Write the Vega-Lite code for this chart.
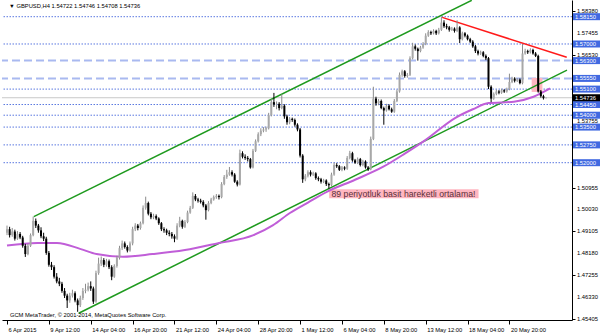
{
"$schema": "https://vega.github.io/schema/vega-lite/v6.json",
"width": 570, "height": 320,
"autosize": {"type": "none"},
"padding": {"left": 2, "top": 0, "right": 28, "bottom": 13},
"background": "white",
"config": {"view": {"stroke": null}, "font": "Liberation Sans",
 "axis": {"grid": false, "domainColor": "#000", "tickColor": "#000", "labelColor": "#000", "labelFont": "Liberation Sans", "labelFontSize": 5.8, "tickSize": 3, "domainWidth": 1, "tickWidth": 1}},
"datasets": {
"candles": [
{"i":0,"o":1.4905,"h":1.4935,"l":1.4895,"c":1.4920},
{"i":1,"o":1.4920,"h":1.4930,"l":1.4885,"c":1.4895},
{"i":2,"o":1.4895,"h":1.4925,"l":1.4888,"c":1.4910},
{"i":3,"o":1.4910,"h":1.4918,"l":1.4872,"c":1.4880},
{"i":4,"o":1.4880,"h":1.4912,"l":1.4875,"c":1.4900},
{"i":5,"o":1.4900,"h":1.4908,"l":1.4878,"c":1.4885},
{"i":6,"o":1.4885,"h":1.4892,"l":1.4842,"c":1.4850},
{"i":7,"o":1.4850,"h":1.4858,"l":1.4803,"c":1.4815},
{"i":8,"o":1.4815,"h":1.4858,"l":1.4810,"c":1.4850},
{"i":9,"o":1.4850,"h":1.4902,"l":1.4845,"c":1.4895},
{"i":10,"o":1.4895,"h":1.4973,"l":1.4890,"c":1.4955},
{"i":11,"o":1.4955,"h":1.4965,"l":1.4925,"c":1.4935},
{"i":12,"o":1.4935,"h":1.4942,"l":1.4905,"c":1.4915},
{"i":13,"o":1.4915,"h":1.4928,"l":1.4882,"c":1.4890},
{"i":14,"o":1.4890,"h":1.4905,"l":1.4870,"c":1.4880},
{"i":15,"o":1.4880,"h":1.4888,"l":1.4812,"c":1.4820},
{"i":16,"o":1.4820,"h":1.4828,"l":1.4762,"c":1.4770},
{"i":17,"o":1.4770,"h":1.4782,"l":1.4748,"c":1.4760},
{"i":18,"o":1.4760,"h":1.4768,"l":1.4712,"c":1.4720},
{"i":19,"o":1.4720,"h":1.4735,"l":1.4692,"c":1.4700},
{"i":20,"o":1.4700,"h":1.4715,"l":1.4680,"c":1.4690},
{"i":21,"o":1.4690,"h":1.4698,"l":1.4652,"c":1.4660},
{"i":22,"o":1.4660,"h":1.4672,"l":1.4630,"c":1.4640},
{"i":23,"o":1.4640,"h":1.4648,"l":1.4588,"c":1.4620},
{"i":24,"o":1.4620,"h":1.4652,"l":1.4610,"c":1.4640},
{"i":25,"o":1.4640,"h":1.4665,"l":1.4632,"c":1.4650},
{"i":26,"o":1.4650,"h":1.4658,"l":1.4612,"c":1.4620},
{"i":27,"o":1.4620,"h":1.4628,"l":1.4572,"c":1.4600},
{"i":28,"o":1.4600,"h":1.4640,"l":1.4592,"c":1.4630},
{"i":29,"o":1.4630,"h":1.4672,"l":1.4622,"c":1.4660},
{"i":30,"o":1.4660,"h":1.4690,"l":1.4650,"c":1.4665},
{"i":31,"o":1.4665,"h":1.4695,"l":1.4658,"c":1.4680},
{"i":32,"o":1.4680,"h":1.4700,"l":1.4660,"c":1.4670},
{"i":33,"o":1.4670,"h":1.4678,"l":1.4605,"c":1.4615},
{"i":34,"o":1.4615,"h":1.4745,"l":1.4610,"c":1.4735},
{"i":35,"o":1.4735,"h":1.4800,"l":1.4728,"c":1.4775},
{"i":36,"o":1.4775,"h":1.4805,"l":1.4765,"c":1.4790},
{"i":37,"o":1.4790,"h":1.4798,"l":1.4760,"c":1.4770},
{"i":38,"o":1.4770,"h":1.4795,"l":1.4762,"c":1.4785},
{"i":39,"o":1.4785,"h":1.4792,"l":1.4752,"c":1.4760},
{"i":40,"o":1.4760,"h":1.4768,"l":1.4705,"c":1.4720},
{"i":41,"o":1.4720,"h":1.4772,"l":1.4715,"c":1.4765},
{"i":42,"o":1.4765,"h":1.4808,"l":1.4758,"c":1.4800},
{"i":43,"o":1.4800,"h":1.4850,"l":1.4792,"c":1.4840},
{"i":44,"o":1.4840,"h":1.4872,"l":1.4832,"c":1.4860},
{"i":45,"o":1.4860,"h":1.4868,"l":1.4838,"c":1.4845},
{"i":46,"o":1.4845,"h":1.4852,"l":1.4822,"c":1.4830},
{"i":47,"o":1.4830,"h":1.4868,"l":1.4825,"c":1.4860},
{"i":48,"o":1.4860,"h":1.4930,"l":1.4852,"c":1.4920},
{"i":49,"o":1.4920,"h":1.4945,"l":1.4912,"c":1.4935},
{"i":50,"o":1.4935,"h":1.4942,"l":1.4915,"c":1.4925},
{"i":51,"o":1.4925,"h":1.4952,"l":1.4918,"c":1.4945},
{"i":52,"o":1.4945,"h":1.5020,"l":1.4940,"c":1.5010},
{"i":53,"o":1.5010,"h":1.5057,"l":1.5002,"c":1.5030},
{"i":54,"o":1.5030,"h":1.5036,"l":1.4978,"c":1.4985},
{"i":55,"o":1.4985,"h":1.4992,"l":1.4962,"c":1.4970},
{"i":56,"o":1.4970,"h":1.4985,"l":1.4962,"c":1.4975},
{"i":57,"o":1.4975,"h":1.4982,"l":1.4958,"c":1.4965},
{"i":58,"o":1.4965,"h":1.4970,"l":1.4938,"c":1.4945},
{"i":59,"o":1.4945,"h":1.4950,"l":1.4912,"c":1.4920},
{"i":60,"o":1.4920,"h":1.4928,"l":1.4905,"c":1.4915},
{"i":61,"o":1.4915,"h":1.4922,"l":1.4895,"c":1.4905},
{"i":62,"o":1.4905,"h":1.4915,"l":1.4890,"c":1.4900},
{"i":63,"o":1.4900,"h":1.4908,"l":1.4880,"c":1.4890},
{"i":64,"o":1.4890,"h":1.4898,"l":1.4865,"c":1.4880},
{"i":65,"o":1.4880,"h":1.4945,"l":1.4875,"c":1.4935},
{"i":66,"o":1.4935,"h":1.4972,"l":1.4928,"c":1.4955},
{"i":67,"o":1.4955,"h":1.4960,"l":1.4922,"c":1.4930},
{"i":68,"o":1.4930,"h":1.4958,"l":1.4925,"c":1.4950},
{"i":69,"o":1.4950,"h":1.4998,"l":1.4945,"c":1.4990},
{"i":70,"o":1.4990,"h":1.5018,"l":1.4985,"c":1.5010},
{"i":71,"o":1.5010,"h":1.5075,"l":1.5005,"c":1.5060},
{"i":72,"o":1.5060,"h":1.5068,"l":1.5038,"c":1.5045},
{"i":73,"o":1.5045,"h":1.5052,"l":1.5032,"c":1.5040},
{"i":74,"o":1.5040,"h":1.5048,"l":1.5028,"c":1.5035},
{"i":75,"o":1.5035,"h":1.5042,"l":1.5012,"c":1.5020},
{"i":76,"o":1.5020,"h":1.5026,"l":1.4960,"c":1.5000},
{"i":77,"o":1.5000,"h":1.5038,"l":1.4995,"c":1.5030},
{"i":78,"o":1.5030,"h":1.5052,"l":1.5025,"c":1.5045},
{"i":79,"o":1.5045,"h":1.5062,"l":1.5040,"c":1.5055},
{"i":80,"o":1.5055,"h":1.5068,"l":1.5048,"c":1.5060},
{"i":81,"o":1.5060,"h":1.5066,"l":1.5045,"c":1.5055},
{"i":82,"o":1.5055,"h":1.5118,"l":1.5050,"c":1.5110},
{"i":83,"o":1.5110,"h":1.5148,"l":1.5105,"c":1.5140},
{"i":84,"o":1.5140,"h":1.5170,"l":1.5132,"c":1.5150},
{"i":85,"o":1.5150,"h":1.5182,"l":1.5145,"c":1.5160},
{"i":86,"o":1.5160,"h":1.5168,"l":1.5142,"c":1.5150},
{"i":87,"o":1.5150,"h":1.5156,"l":1.5115,"c":1.5120},
{"i":88,"o":1.5120,"h":1.5126,"l":1.5100,"c":1.5108},
{"i":89,"o":1.5108,"h":1.5255,"l":1.5104,"c":1.5240},
{"i":90,"o":1.5240,"h":1.5248,"l":1.5218,"c":1.5225},
{"i":91,"o":1.5225,"h":1.5235,"l":1.5212,"c":1.5220},
{"i":92,"o":1.5220,"h":1.5228,"l":1.5205,"c":1.5215},
{"i":93,"o":1.5215,"h":1.5220,"l":1.5175,"c":1.5180},
{"i":94,"o":1.5180,"h":1.5258,"l":1.5176,"c":1.5250},
{"i":95,"o":1.5250,"h":1.5298,"l":1.5245,"c":1.5290},
{"i":96,"o":1.5290,"h":1.5328,"l":1.5285,"c":1.5320},
{"i":97,"o":1.5320,"h":1.5345,"l":1.5312,"c":1.5335},
{"i":98,"o":1.5335,"h":1.5350,"l":1.5328,"c":1.5340},
{"i":99,"o":1.5340,"h":1.5352,"l":1.5330,"c":1.5345},
{"i":100,"o":1.5345,"h":1.5410,"l":1.5340,"c":1.5400},
{"i":101,"o":1.5400,"h":1.5468,"l":1.5395,"c":1.5455},
{"i":102,"o":1.5455,"h":1.5494,"l":1.5435,"c":1.5445},
{"i":103,"o":1.5445,"h":1.5458,"l":1.5425,"c":1.5448},
{"i":104,"o":1.5448,"h":1.5455,"l":1.5420,"c":1.5430},
{"i":105,"o":1.5430,"h":1.5488,"l":1.5425,"c":1.5440},
{"i":106,"o":1.5440,"h":1.5446,"l":1.5385,"c":1.5395},
{"i":107,"o":1.5395,"h":1.5402,"l":1.5360,"c":1.5370},
{"i":108,"o":1.5370,"h":1.5392,"l":1.5362,"c":1.5385},
{"i":109,"o":1.5385,"h":1.5390,"l":1.5372,"c":1.5380},
{"i":110,"o":1.5380,"h":1.5386,"l":1.5352,"c":1.5360},
{"i":111,"o":1.5360,"h":1.5366,"l":1.5332,"c":1.5340},
{"i":112,"o":1.5340,"h":1.5346,"l":1.5222,"c":1.5230},
{"i":113,"o":1.5230,"h":1.5236,"l":1.5115,"c":1.5130},
{"i":114,"o":1.5130,"h":1.5152,"l":1.5122,"c":1.5145},
{"i":115,"o":1.5145,"h":1.5168,"l":1.5138,"c":1.5160},
{"i":116,"o":1.5160,"h":1.5168,"l":1.5142,"c":1.5150},
{"i":117,"o":1.5150,"h":1.5162,"l":1.5144,"c":1.5155},
{"i":118,"o":1.5155,"h":1.5160,"l":1.5128,"c":1.5135},
{"i":119,"o":1.5135,"h":1.5142,"l":1.5122,"c":1.5130},
{"i":120,"o":1.5130,"h":1.5136,"l":1.5112,"c":1.5120},
{"i":121,"o":1.5120,"h":1.5132,"l":1.5114,"c":1.5125},
{"i":122,"o":1.5125,"h":1.5130,"l":1.5102,"c":1.5110},
{"i":123,"o":1.5110,"h":1.5116,"l":1.5090,"c":1.5105},
{"i":124,"o":1.5105,"h":1.5158,"l":1.5100,"c":1.5150},
{"i":125,"o":1.5150,"h":1.5200,"l":1.5145,"c":1.5190},
{"i":126,"o":1.5190,"h":1.5198,"l":1.5178,"c":1.5185},
{"i":127,"o":1.5185,"h":1.5190,"l":1.5165,"c":1.5170},
{"i":128,"o":1.5170,"h":1.5186,"l":1.5164,"c":1.5180},
{"i":129,"o":1.5180,"h":1.5185,"l":1.5168,"c":1.5175},
{"i":130,"o":1.5175,"h":1.5228,"l":1.5170,"c":1.5220},
{"i":131,"o":1.5220,"h":1.5250,"l":1.5214,"c":1.5240},
{"i":132,"o":1.5240,"h":1.5246,"l":1.5204,"c":1.5210},
{"i":133,"o":1.5210,"h":1.5216,"l":1.5195,"c":1.5200},
{"i":134,"o":1.5200,"h":1.5222,"l":1.5194,"c":1.5215},
{"i":135,"o":1.5215,"h":1.5220,"l":1.5184,"c":1.5190},
{"i":136,"o":1.5190,"h":1.5212,"l":1.5185,"c":1.5205},
{"i":137,"o":1.5205,"h":1.5210,"l":1.5175,"c":1.5180},
{"i":138,"o":1.5180,"h":1.5186,"l":1.5165,"c":1.5172},
{"i":139,"o":1.5172,"h":1.5310,"l":1.5168,"c":1.5300},
{"i":140,"o":1.5300,"h":1.5520,"l":1.5295,"c":1.5470},
{"i":141,"o":1.5470,"h":1.5478,"l":1.5440,"c":1.5450},
{"i":142,"o":1.5450,"h":1.5468,"l":1.5442,"c":1.5460},
{"i":143,"o":1.5460,"h":1.5466,"l":1.5425,"c":1.5430},
{"i":144,"o":1.5430,"h":1.5436,"l":1.5360,"c":1.5420},
{"i":145,"o":1.5420,"h":1.5448,"l":1.5415,"c":1.5440},
{"i":146,"o":1.5440,"h":1.5446,"l":1.5420,"c":1.5425},
{"i":147,"o":1.5425,"h":1.5432,"l":1.5410,"c":1.5415},
{"i":148,"o":1.5415,"h":1.5468,"l":1.5410,"c":1.5460},
{"i":149,"o":1.5460,"h":1.5508,"l":1.5455,"c":1.5500},
{"i":150,"o":1.5500,"h":1.5580,"l":1.5495,"c":1.5570},
{"i":151,"o":1.5570,"h":1.5592,"l":1.5562,"c":1.5585},
{"i":152,"o":1.5585,"h":1.5590,"l":1.5558,"c":1.5565},
{"i":153,"o":1.5565,"h":1.5578,"l":1.5558,"c":1.5570},
{"i":154,"o":1.5570,"h":1.5648,"l":1.5565,"c":1.5640},
{"i":155,"o":1.5640,"h":1.5705,"l":1.5635,"c":1.5690},
{"i":156,"o":1.5690,"h":1.5698,"l":1.5672,"c":1.5680},
{"i":157,"o":1.5680,"h":1.5685,"l":1.5630,"c":1.5670},
{"i":158,"o":1.5670,"h":1.5692,"l":1.5665,"c":1.5685},
{"i":159,"o":1.5685,"h":1.5708,"l":1.5680,"c":1.5700},
{"i":160,"o":1.5700,"h":1.5745,"l":1.5695,"c":1.5735},
{"i":161,"o":1.5735,"h":1.5758,"l":1.5730,"c":1.5750},
{"i":162,"o":1.5750,"h":1.5756,"l":1.5738,"c":1.5745},
{"i":163,"o":1.5745,"h":1.5762,"l":1.5740,"c":1.5755},
{"i":164,"o":1.5755,"h":1.5760,"l":1.5738,"c":1.5745},
{"i":165,"o":1.5745,"h":1.5768,"l":1.5740,"c":1.5760},
{"i":166,"o":1.5760,"h":1.5815,"l":1.5755,"c":1.5790},
{"i":167,"o":1.5790,"h":1.5800,"l":1.5768,"c":1.5775},
{"i":168,"o":1.5775,"h":1.5785,"l":1.5762,"c":1.5770},
{"i":169,"o":1.5770,"h":1.5776,"l":1.5752,"c":1.5760},
{"i":170,"o":1.5760,"h":1.5772,"l":1.5755,"c":1.5765},
{"i":171,"o":1.5765,"h":1.5770,"l":1.5748,"c":1.5755},
{"i":172,"o":1.5755,"h":1.5800,"l":1.5750,"c":1.5770},
{"i":173,"o":1.5770,"h":1.5775,"l":1.5704,"c":1.5720},
{"i":174,"o":1.5720,"h":1.5752,"l":1.5715,"c":1.5745},
{"i":175,"o":1.5745,"h":1.5750,"l":1.5728,"c":1.5735},
{"i":176,"o":1.5735,"h":1.5740,"l":1.5715,"c":1.5720},
{"i":177,"o":1.5720,"h":1.5726,"l":1.5704,"c":1.5710},
{"i":178,"o":1.5710,"h":1.5716,"l":1.5684,"c":1.5690},
{"i":179,"o":1.5690,"h":1.5696,"l":1.5662,"c":1.5670},
{"i":180,"o":1.5670,"h":1.5676,"l":1.5652,"c":1.5660},
{"i":181,"o":1.5660,"h":1.5672,"l":1.5654,"c":1.5665},
{"i":182,"o":1.5665,"h":1.5670,"l":1.5644,"c":1.5650},
{"i":183,"o":1.5650,"h":1.5656,"l":1.5632,"c":1.5640},
{"i":184,"o":1.5640,"h":1.5645,"l":1.5510,"c":1.5520},
{"i":185,"o":1.5520,"h":1.5526,"l":1.5455,"c":1.5470},
{"i":186,"o":1.5470,"h":1.5496,"l":1.5465,"c":1.5490},
{"i":187,"o":1.5490,"h":1.5508,"l":1.5484,"c":1.5500},
{"i":188,"o":1.5500,"h":1.5506,"l":1.5488,"c":1.5495},
{"i":189,"o":1.5495,"h":1.5512,"l":1.5490,"c":1.5505},
{"i":190,"o":1.5505,"h":1.5510,"l":1.5494,"c":1.5500},
{"i":191,"o":1.5500,"h":1.5516,"l":1.5495,"c":1.5510},
{"i":192,"o":1.5510,"h":1.5575,"l":1.5505,"c":1.5540},
{"i":193,"o":1.5540,"h":1.5562,"l":1.5535,"c":1.5555},
{"i":194,"o":1.5555,"h":1.5560,"l":1.5538,"c":1.5545},
{"i":195,"o":1.5545,"h":1.5556,"l":1.5540,"c":1.5550},
{"i":196,"o":1.5550,"h":1.5555,"l":1.5530,"c":1.5535},
{"i":197,"o":1.5535,"h":1.5700,"l":1.5530,"c":1.5660},
{"i":198,"o":1.5660,"h":1.5680,"l":1.5655,"c":1.5670},
{"i":199,"o":1.5670,"h":1.5676,"l":1.5658,"c":1.5665},
{"i":200,"o":1.5665,"h":1.5682,"l":1.5660,"c":1.5675},
{"i":201,"o":1.5675,"h":1.5680,"l":1.5655,"c":1.5660},
{"i":202,"o":1.5660,"h":1.5666,"l":1.5645,"c":1.5650},
{"i":203,"o":1.5650,"h":1.5655,"l":1.5495,"c":1.5500},
{"i":204,"o":1.5500,"h":1.5506,"l":1.5474,"c":1.5480},
{"i":205,"o":1.5480,"h":1.5486,"l":1.5466,"c":1.5472},
{"i":206,"o":1.54722,"h":1.54746,"l":1.54708,"c":1.54736}
],
"ma": [
{"i":0,"p":1.4851},{"i":11.6,"p":1.4862},{"i":19.1,"p":1.4862},{"i":28.2,"p":1.4836},{"i":34.2,"p":1.4815},{"i":44.3,"p":1.4804},{"i":55.6,"p":1.4815},{"i":68,"p":1.4832},{"i":80.7,"p":1.4861},{"i":94.2,"p":1.4895},{"i":101.7,"p":1.4937},{"i":108.1,"p":1.4988},{"i":115,"p":1.5032},{"i":122.4,"p":1.5078},{"i":133,"p":1.5128},{"i":143.8,"p":1.5183},{"i":152,"p":1.5238},{"i":160,"p":1.5296},{"i":171.2,"p":1.5388},{"i":178,"p":1.5425},{"i":184,"p":1.5451},{"i":193.7,"p":1.5457},{"i":201.2,"p":1.5478},{"i":207.5,"p":1.5513}
],
"trend": [
{"g":"upper","i":10.25,"p":1.4973},{"g":"upper","i":177.6,"p":1.5884},
{"g":"lower","i":27.4,"p":1.4566},{"g":"lower","i":214,"p":1.5590},
{"g":"resistance","i":166.3,"p":1.5812},{"g":"resistance","i":213.9,"p":1.5644}
],
"dotted": [{"p":1.5815},{"p":1.57},{"p":1.551},{"p":1.5445},{"p":1.54},{"p":1.535},{"p":1.5275},{"p":1.52}],
"dashed": [{"p":1.563},{"p":1.5555}],
"bid": [{"p":1.54736}],
"yticks": [{"p":1.5838},{"p":1.57455},{"p":1.5653},{"p":1.53755},{"p":1.50955},{"p":1.5003},{"p":1.49105},{"p":1.4818},{"p":1.47255},{"p":1.4633},{"p":1.45405}],
"levels": [
{"p":1.5815,"kind":"level"},{"p":1.57,"kind":"level"},{"p":1.563,"kind":"level"},{"p":1.5555,"kind":"level"},{"p":1.551,"kind":"level"},{"p":1.5445,"kind":"level"},{"p":1.54,"kind":"level"},{"p":1.535,"kind":"level"},{"p":1.5275,"kind":"level"},{"p":1.52,"kind":"level"},{"p":1.54736,"kind":"bid"}
],
"zones": [{"i1":200.5,"i2":204.6,"p1":1.5498,"p2":1.5557}],
"note": [{"i1":123.1,"i2":180.2,"p1":1.5050,"p2":1.5088,"i":124,"p":1.5069,"t":"89 periyotluk basit hareketli ortalama!"}],
"texts": [
{"i":0.8,"p":1.5860,"t":"▼ GBPUSD,H4  1.54722 1.54746 1.54708 1.54736"},
{"i":1.1,"p":1.4557,"t":"GCM MetaTrader, © 2001-2014, MetaQuotes Software Corp."}
]
},
"layer": [
{"data": {"name": "candles"}, "mark": {"type": "rule", "strokeWidth": 0, "opacity": 0},
 "encoding": {
  "x": {"field": "i", "type": "quantitative", "title": null, "scale": {"domain": [0, 214], "nice": false, "zero": false},
   "axis": {"orient": "bottom", "values": [0,16,32,48,64,80,96,112,128,144,160,176,192], "labelAlign": "left", "labelOffset": 1, "labelPadding": 2, "labelBaseline": "top", "tickSize": 4, "title": null, "labelOverlap": false, "labelFlush": false,
    "labelExpr": "['6 Apr 2015','9 Apr 12:00','14 Apr 04:00','16 Apr 20:00','21 Apr 12:00','24 Apr 04:00','28 Apr 20:00','1 May 12:00','6 May 04:00','8 May 20:00','13 May 12:00','18 May 04:00','20 May 20:00'][round(datum.value/16)]"}},
  "y": {"field": "l", "type": "quantitative", "title": null, "scale": {"domain": [1.45374, 1.58853], "nice": false, "zero": false},
   "axis": {"orient": "right", "values": [1.5838,1.57455,1.5653,1.53755,1.50955,1.5003,1.49105,1.4818,1.47255,1.4633,1.45405], "labels": false, "tickSize": 3, "title": null}},
  "y2": {"field": "h"}}},
{"data": {"name": "dotted"}, "mark": {"type": "rule", "color": "#5a78e0", "strokeWidth": 1, "strokeDash": [1.5, 1.5]},
 "encoding": {"y": {"field": "p", "type": "quantitative", "title": null}}},
{"data": {"name": "dashed"}, "mark": {"type": "rule", "color": "#a9b9f0", "strokeWidth": 2, "strokeDash": [8, 4]},
 "encoding": {"y": {"field": "p", "type": "quantitative", "title": null}}},
{"data": {"name": "bid"}, "mark": {"type": "rule", "color": "#c8c8c8", "strokeWidth": 1},
 "encoding": {"y": {"field": "p", "type": "quantitative", "title": null}}},
{"data": {"name": "zones"}, "mark": {"type": "rect", "color": "#ffb6c1"},
 "encoding": {"x": {"field": "i1", "type": "quantitative", "title": null}, "x2": {"field": "i2"}, "y": {"field": "p1", "type": "quantitative", "title": null}, "y2": {"field": "p2"}}},
{"data": {"name": "note"}, "mark": {"type": "rect", "color": "#ffb6c1"},
 "encoding": {"x": {"field": "i1", "type": "quantitative", "title": null}, "x2": {"field": "i2"}, "y": {"field": "p1", "type": "quantitative", "title": null}, "y2": {"field": "p2"}}},
{"data": {"name": "note"}, "mark": {"type": "text", "align": "left", "baseline": "middle", "font": "Liberation Sans", "fontSize": 8.7, "color": "#5a3038"},
 "encoding": {"x": {"field": "i", "type": "quantitative", "title": null}, "y": {"field": "p", "type": "quantitative", "title": null}, "text": {"field": "t"}}},
{"data": {"name": "trend"}, "mark": {"type": "line", "strokeWidth": 1.5},
 "encoding": {"x": {"field": "i", "type": "quantitative", "title": null}, "y": {"field": "p", "type": "quantitative", "title": null}, "detail": {"field": "g"},
  "color": {"field": "g", "type": "nominal", "scale": {"domain": ["upper", "lower", "resistance"], "range": ["#1e9a1e", "#1e9a1e", "#ff1a1a"]}, "legend": null}}},
{"data": {"name": "ma"}, "mark": {"type": "line", "color": "#c05ed8", "strokeWidth": 2, "interpolate": "monotone"},
 "encoding": {"x": {"field": "i", "type": "quantitative", "title": null}, "y": {"field": "p", "type": "quantitative", "title": null}}},
{"data": {"name": "candles"}, "mark": {"type": "rule", "strokeWidth": 1},
 "encoding": {
  "x": {"field": "i", "type": "quantitative", "title": null},
  "y": {"field": "l", "type": "quantitative", "title": null},
  "y2": {"field": "h"},
  "color": {"condition": {"test": "datum.c >= datum.o", "value": "#8c8c8c"}, "value": "#000000"}}},
{"data": {"name": "candles"}, "mark": {"type": "bar", "width": 2},
 "encoding": {"x": {"field": "i", "type": "quantitative", "title": null}, "y": {"field": "o", "type": "quantitative", "title": null}, "y2": {"field": "c"},
  "color": {"condition": {"test": "datum.c >= datum.o", "value": "#a8a8a8"}, "value": "#000000"}}},
{"mark": {"type": "rule", "color": "#000", "strokeWidth": 1}, "encoding": {"x": {"datum": 0, "type": "quantitative", "title": null}}},
{"data": {"name": "texts"}, "mark": {"type": "text", "align": "left", "baseline": "middle", "font": "Liberation Sans", "fontSize": 5.8, "color": "#000"},
 "encoding": {"x": {"field": "i", "type": "quantitative", "title": null}, "y": {"field": "p", "type": "quantitative", "title": null}, "text": {"field": "t"}}},
{"data": {"name": "yticks"}, "mark": {"type": "text", "align": "left", "baseline": "middle", "dx": 5, "font": "Liberation Sans", "fontSize": 5.8, "color": "#000000", "clip": false},
 "encoding": {"x": {"value": "width"}, "y": {"field": "p", "type": "quantitative", "title": null}, "text": {"field": "p", "type": "quantitative", "format": ".5f"}}},
{"data": {"name": "levels"}, "mark": {"type": "point", "filled": true, "opacity": 1, "size": 784, "shape": "M0.07,-0.25L2,-0.25L2,0.25L0.07,0.25Z", "clip": false},
 "encoding": {"x": {"value": "width"}, "y": {"field": "p", "type": "quantitative", "title": null},
  "color": {"condition": {"test": "datum.kind == 'bid'", "value": "#000000"}, "value": "#4169e1"}}},
{"data": {"name": "levels"}, "mark": {"type": "text", "align": "left", "baseline": "middle", "dx": 3, "font": "Liberation Sans", "fontSize": 5.8, "color": "#ffffff", "clip": false},
 "encoding": {"x": {"value": "width"}, "y": {"field": "p", "type": "quantitative", "title": null}, "text": {"field": "p", "type": "quantitative", "format": ".5f"}}}
]
}
